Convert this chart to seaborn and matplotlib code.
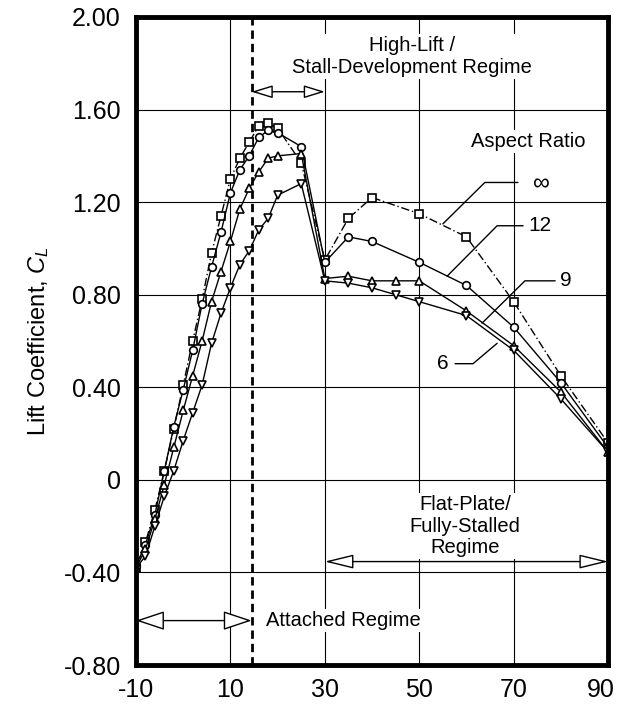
import matplotlib
matplotlib.use("Agg")
import matplotlib.pyplot as plt
from matplotlib.transforms import ScaledTranslation
import seaborn as sns
import pandas as pd

# Angle of attack (deg) and lift coefficient for each aspect ratio
alpha_inf = [-10, -8, -6, -4, -2, 0, 2, 4, 6, 8, 10, 12, 14, 16, 18, 20, 25,
             30, 35, 40, 50, 60, 70, 80, 90]
cl_inf = [-0.38, -0.27, -0.13, 0.04, 0.22, 0.41, 0.60, 0.78, 0.98, 1.14, 1.30,
          1.39, 1.46, 1.53, 1.54, 1.52, 1.37, 0.95, 1.13, 1.22, 1.15, 1.05,
          0.77, 0.45, 0.16]

alpha_12 = [-10, -8, -6, -4, -2, 0, 2, 4, 6, 8, 10, 12, 14, 16, 18, 20, 25,
            30, 35, 40, 50, 60, 70, 80, 90]
cl_12 = [-0.37, -0.28, -0.15, 0.04, 0.23, 0.39, 0.56, 0.76, 0.92, 1.07, 1.24,
         1.34, 1.40, 1.48, 1.51, 1.50, 1.44, 0.94, 1.05, 1.03, 0.94, 0.84,
         0.66, 0.42, 0.14]

alpha_9 = [-10, -8, -6, -4, -2, 0, 2, 4, 6, 8, 10, 12, 14, 16, 18, 20, 25,
           30, 35, 40, 45, 50, 60, 70, 80, 90]
cl_9 = [-0.38, -0.30, -0.17, -0.02, 0.14, 0.30, 0.45, 0.60, 0.77, 0.90, 1.03,
        1.17, 1.26, 1.33, 1.39, 1.40, 1.41, 0.87, 0.88, 0.86, 0.86, 0.86,
        0.73, 0.58, 0.38, 0.12]

alpha_6 = [-10, -8, -6, -4, -2, 0, 2, 4, 6, 8, 10, 12, 14, 16, 18, 20, 25,
           30, 35, 40, 45, 50, 60, 70, 80, 90]
cl_6 = [-0.38, -0.33, -0.20, -0.07, 0.04, 0.17, 0.29, 0.41, 0.59, 0.72, 0.83,
        0.93, 0.99, 1.08, 1.13, 1.23, 1.28, 0.86, 0.85, 0.83, 0.80, 0.77,
        0.71, 0.56, 0.35, 0.12]

x_ticks = [-10, 10, 30, 50, 70, 90]
x_tick_labels = ["-10", "10", "30", "50", "70", "90"]
y_ticks = [-0.80, -0.40, 0.0, 0.40, 0.80, 1.20, 1.60, 2.00]
y_tick_labels = ["-0.80", "-0.40", "0", "0.40", "0.80", "1.20", "1.60", "2.00"]

sns.set_theme(style="white")
plt.rcParams["font.family"] = ["Liberation Sans", "DejaVu Sans"]
plt.rcParams["mathtext.fontset"] = "custom"
plt.rcParams["mathtext.it"] = "Liberation Sans:italic"
plt.rcParams["mathtext.rm"] = "Liberation Sans"

fig = plt.figure(figsize=(6.2, 7.08), dpi=100)
ax = fig.add_axes([0.2194, 0.0607, 0.7613, 0.9153])

series = [
    (alpha_inf, cl_inf, "s", (0, (6, 2, 1, 2))),
    (alpha_12, cl_12, "o", "-"),
    (alpha_9, cl_9, "^", "-"),
    (alpha_6, cl_6, "v", "-"),
]
for a, c, mk, ls in series:
    df = pd.DataFrame({"alpha": a, "cl": c})
    sns.lineplot(data=df, x="alpha", y="cl", ax=ax, color="black",
                 linewidth=1.0, linestyle=ls, marker=mk, markersize=5.5,
                 markerfacecolor="white", markeredgecolor="black",
                 markeredgewidth=1.2, estimator=None, legend=False, zorder=4)

ax.set_xlim(-10, 90)
ax.set_ylim(-0.80, 2.00)
ax.set_xticks(x_ticks)
ax.set_xticklabels(x_tick_labels)
ax.set_yticks(y_ticks)
ax.set_yticklabels(y_tick_labels)
ax.tick_params(axis="both", length=0, labelsize=18, colors="black")
ax.tick_params(axis="y", pad=11)
ax.tick_params(axis="x", pad=9)
# keep the last x label inside the canvas
last = ax.get_xticklabels()[-1]
last.set_transform(last.get_transform() + ScaledTranslation(-5 / 72, 0, fig.dpi_scale_trans))
ax.set_xlabel("")
ax.set_ylabel(r"Lift Coefficient, $C_L$", fontsize=17, color="black")
ax.yaxis.set_label_coords(-0.18, 0.5)

ax.grid(True, color="black", linewidth=0.8, zorder=0)
ax.set_axisbelow(True)
for sp in ax.spines.values():
    sp.set_color("black")
    sp.set_linewidth(3.5)
    sp.set_zorder(6)

# Boundary between attached flow and stall development
ax.axvline(14.5, color="black", linewidth=2.0, linestyle=(0, (3, 1.8)), zorder=2)

box = dict(facecolor="white", edgecolor="none", pad=1.5)
txt_kw = dict(fontsize=14.5, color="black", zorder=3)

ax.text(48.5, 1.828, "High-Lift /\nStall-Development Regime", ha="center",
        va="center", linespacing=1.2, bbox=box, **txt_kw)
ax.text(73, 1.464, "Aspect Ratio", ha="center", va="center", bbox=box, **txt_kw)
ax.text(59.7, -0.20, "Flat-Plate/\nFully-Stalled\nRegime", ha="center",
        va="center", linespacing=1.17, bbox=box, **txt_kw)
ax.text(17.6, -0.608, "Attached Regime", ha="left", va="center", bbox=box,
        **txt_kw)

# Regime arrows
def span_arrow(x0, x1, y, hl, hw):
    ax.annotate("", xy=(x1, y), xytext=(x0, y),
                arrowprops=dict(arrowstyle=f"<|-|>,head_length={hl},head_width={hw}",
                                facecolor="white", edgecolor="black", lw=1.0,
                                shrinkA=0, shrinkB=0, mutation_scale=20),
                zorder=5)

span_arrow(14.5, 30, 1.677, 0.65, 0.2)
span_arrow(-10, 14.5, -0.608, 0.9, 0.3)
span_arrow(30, 90, -0.353, 0.9, 0.22)

# Aspect ratio labels with leader lines
leaders = [
    ("\u221e", (74.0, 1.275), [55.0, 63.9, 70.9], [1.106, 1.285, 1.285]),
    ("12", (73.2, 1.098), [55.9, 66.5, 72.0], [0.880, 1.098, 1.098]),
    ("9", (79.8, 0.86), [63.3, 72.4, 78.8], [0.677, 0.86, 0.86]),
    ("6", (56.2, 0.502), [66.5, 61.4, 57.6], [0.59, 0.502, 0.502]),
]
for label, (tx, ty), lx, ly in leaders:
    ax.plot(lx, ly, color="black", linewidth=1.0, zorder=3)
    ha = "right" if label == "6" else "left"
    ax.text(tx, ty, label, ha=ha, va="center", fontsize=17 if label == "\u221e" else 15,
            color="black", zorder=3)

fig.savefig("out.png", dpi=100, facecolor="white")
